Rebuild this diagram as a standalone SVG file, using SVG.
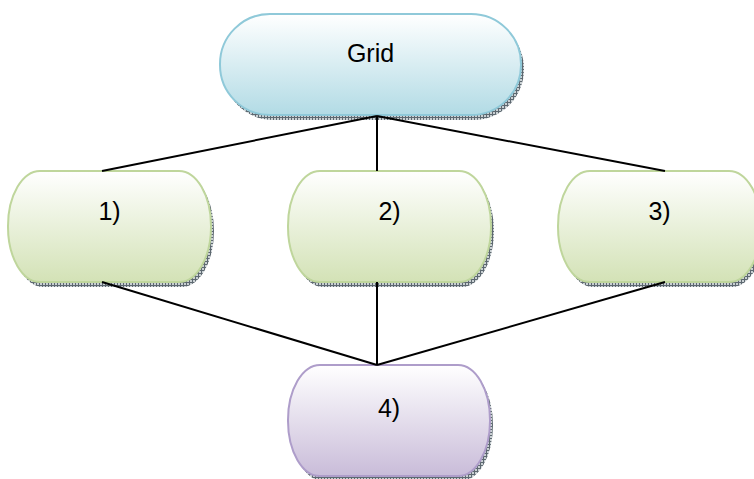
<svg xmlns="http://www.w3.org/2000/svg" width="754" height="479" viewBox="0 0 754 479">
  <style>
    .label { font-family: "Liberation Sans", Arial, sans-serif; font-size: 25px; fill: #000; text-anchor: middle; }
    .shadow { fill: url(#hatch); }
    .blue { fill: url(#gBlue); stroke: #8fc9d9; stroke-width: 2; }
    .green { fill: url(#gGreen); stroke: #bfd69c; stroke-width: 2; }
    .purple { fill: url(#gPurple); stroke: #ae9dca; stroke-width: 2; }
    .edge { stroke: #000; stroke-width: 2; fill: none; }
  </style>
  <defs>
    <linearGradient id="gBlue" x1="0" y1="0" x2="0" y2="1">
      <stop offset="0" stop-color="#ffffff"/>
      <stop offset="1" stop-color="#b2dbe5"/>
    </linearGradient>
    <linearGradient id="gGreen" x1="0" y1="0" x2="0" y2="1">
      <stop offset="0" stop-color="#ffffff"/>
      <stop offset="1" stop-color="#d3e2b6"/>
    </linearGradient>
    <linearGradient id="gPurple" x1="0" y1="0" x2="0" y2="1">
      <stop offset="0" stop-color="#ffffff"/>
      <stop offset="1" stop-color="#c9bcd9"/>
    </linearGradient>
    <pattern id="hatch" width="3" height="3" patternUnits="userSpaceOnUse">
      <rect width="3" height="3" fill="#c9d0d3"/>
      <path d="M0 0.5H3M0.5 0V3" stroke="#5d6870" stroke-width="1"/>
    </pattern>
  </defs>

  <!-- Grid (top node) -->
  <g id="node-grid">
    <rect class="shadow" x="223" y="18" width="301" height="102" rx="50" ry="51"/>
    <rect class="blue" x="220" y="14" width="301" height="101" rx="50" ry="50"/>
    <text class="label" x="370.5" y="62">Grid</text>
  </g>

  <!-- Middle row -->
  <g id="node-1">
    <rect class="shadow" x="11" y="175" width="203" height="112" rx="32" ry="56"/>
    <rect class="green" x="8" y="171" width="203" height="111" rx="32" ry="55"/>
    <text class="label" x="109.5" y="220">1)</text>
  </g>
  <g id="node-2">
    <rect class="shadow" x="291" y="175" width="203" height="112" rx="32" ry="56"/>
    <rect class="green" x="288" y="171" width="203" height="111" rx="32" ry="55"/>
    <text class="label" x="389.5" y="220">2)</text>
  </g>
  <g id="node-3">
    <rect class="shadow" x="561" y="175" width="203" height="112" rx="32" ry="56"/>
    <rect class="green" x="558" y="171" width="203" height="111" rx="32" ry="55"/>
    <text class="label" x="659.5" y="220">3)</text>
  </g>

  <!-- Bottom node -->
  <g id="node-4">
    <rect class="shadow" x="291" y="369" width="202" height="112" rx="32" ry="56"/>
    <rect class="purple" x="288" y="365" width="202" height="111" rx="32" ry="55"/>
    <text class="label" x="389" y="417">4)</text>
  </g>

  <!-- Connectors -->
  <g id="connectors">
    <line class="edge" x1="377" y1="116" x2="102" y2="171"/>
    <line class="edge" x1="377" y1="116" x2="377" y2="171"/>
    <line class="edge" x1="377" y1="116" x2="665" y2="171"/>
    <line class="edge" x1="102" y1="282" x2="377" y2="365"/>
    <line class="edge" x1="377" y1="282" x2="377" y2="365"/>
    <line class="edge" x1="665" y1="282" x2="377" y2="365"/>
  </g>
</svg>
